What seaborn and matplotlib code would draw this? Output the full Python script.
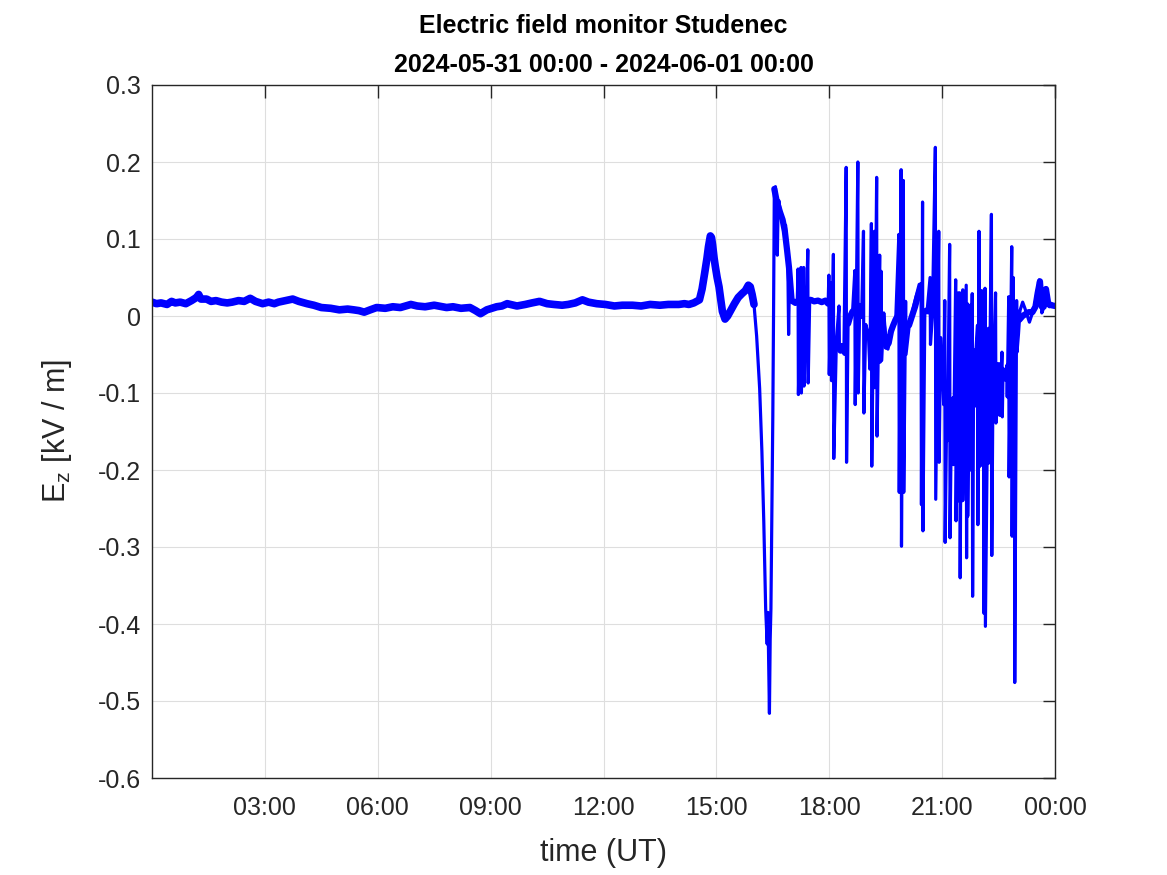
import numpy as np
import pandas as pd
import matplotlib
matplotlib.use('Agg')
import matplotlib.pyplot as plt
import seaborn as sns

# hours after 2024-05-31 00:00 UT, Ez in kV/m
calm_hours = [0.0, 0.12, 0.24, 0.4, 0.52, 0.62, 0.75, 0.9, 1.05, 1.18, 1.24, 1.3, 1.45, 1.57,
              1.7, 1.85, 2.0, 2.13, 2.3, 2.45, 2.61, 2.75, 2.94, 3.1, 3.25, 3.36, 3.55, 3.74,
              3.9, 4.12, 4.3, 4.5, 4.75, 4.98, 5.2, 5.36, 5.5, 5.64, 5.8, 5.97, 6.2, 6.4,
              6.6, 6.88, 7.05, 7.26, 7.5, 7.83, 8.0, 8.21, 8.45, 8.6, 8.73, 8.9, 9.16, 9.3,
              9.44, 9.7, 9.92, 10.1, 10.3, 10.5, 10.68, 10.9, 11.06, 11.25, 11.44, 11.6,
              11.82, 12.05, 12.29, 12.5, 12.77, 13.0, 13.24, 13.5, 13.72, 14.0, 14.15,
              14.27, 14.4, 14.55, 14.62, 14.69, 14.75, 14.79, 14.84, 14.87, 14.9, 14.94,
              14.97, 15.02, 15.07, 15.12, 15.16, 15.23, 15.3, 15.39, 15.48, 15.58, 15.68,
              15.77, 15.85, 15.9, 15.95, 16.0]
calm_ez = [0.018, 0.016, 0.017, 0.015, 0.019, 0.017, 0.018, 0.016, 0.020, 0.024, 0.028, 0.022,
           0.022, 0.019, 0.020, 0.018, 0.017, 0.018, 0.020, 0.019, 0.023, 0.019, 0.016, 0.018,
           0.016, 0.018, 0.020, 0.022, 0.019, 0.016, 0.014, 0.011, 0.010, 0.008, 0.009, 0.008,
           0.007, 0.005, 0.008, 0.011, 0.010, 0.012, 0.011, 0.015, 0.013, 0.012, 0.014, 0.011,
           0.012, 0.010, 0.011, 0.007, 0.003, 0.008, 0.012, 0.013, 0.016, 0.013, 0.015, 0.017,
           0.019, 0.016, 0.015, 0.014, 0.015, 0.017, 0.021, 0.018, 0.016, 0.015, 0.013, 0.014,
           0.014, 0.013, 0.015, 0.014, 0.015, 0.015, 0.016, 0.015, 0.017, 0.021, 0.035, 0.056,
           0.075, 0.090, 0.104, 0.102, 0.092, 0.075, 0.065, 0.050, 0.038, 0.020, 0.006, -0.004,
           0.000, 0.008, 0.016, 0.024, 0.029, 0.033, 0.040, 0.038, 0.028, 0.015]

storm_hours = [16.0, 16.07, 16.15, 16.21, 16.26, 16.31, 16.35, 16.37, 16.41, 16.43, 16.45, 16.47,
               16.5, 16.52, 16.54, 16.57, 16.6, 16.62, 16.64, 16.66, 16.7, 16.75, 16.8, 16.84,
               16.87, 16.9, 16.92, 16.94, 16.97, 17.03, 17.1, 17.15, 17.17, 17.18, 17.25, 17.26,
               17.29, 17.32, 17.33, 17.37, 17.43, 17.44, 17.48, 17.55, 17.62, 17.7, 17.78, 17.85,
               17.93, 17.97, 17.99, 18.0, 18.05, 18.06, 18.11, 18.12, 18.19, 18.26, 18.27, 18.33,
               18.39, 18.45, 18.46, 18.5, 18.57, 18.62, 18.68, 18.69, 18.76, 18.77, 18.81, 18.86,
               18.91, 18.92, 18.97, 19.04, 19.08, 19.12, 19.13, 19.2, 19.21, 19.26, 19.27, 19.34,
               19.35, 19.38, 19.39, 19.45, 19.5, 19.56, 19.62, 19.7, 19.77, 19.85, 19.86, 19.91,
               19.92, 19.97, 19.98, 20.03, 20.04, 20.12, 20.21, 20.3, 20.39, 20.44, 20.45, 20.48,
               20.49, 20.54, 20.6, 20.68, 20.69, 20.74, 20.82, 20.83, 20.91, 20.92, 20.96, 20.99,
               21.02, 21.04, 21.07, 21.08, 21.13, 21.14, 21.2, 21.21, 21.25, 21.29, 21.3, 21.36,
               21.37, 21.43, 21.44, 21.47, 21.48, 21.52, 21.53, 21.55, 21.56, 21.64, 21.65, 21.67,
               21.68, 21.74, 21.75, 21.8, 21.81, 21.84, 21.85, 21.9, 21.94, 21.95, 21.98, 21.99,
               22.05, 22.06, 22.1, 22.11, 22.14, 22.15, 22.23, 22.24, 22.31, 22.32, 22.36, 22.37,
               22.42, 22.43, 22.47, 22.52, 22.53, 22.59, 22.6, 22.62, 22.67, 22.72, 22.73, 22.77,
               22.78, 22.85, 22.86, 22.89, 22.9, 22.92, 22.93, 22.98, 22.99, 23.03, 23.07, 23.14,
               23.2, 23.26, 23.32, 23.38, 23.44, 23.5, 23.53, 23.58, 23.62, 23.65, 23.71, 23.76,
               23.8, 23.85, 23.91, 24.0]
storm_ez = [0.015, -0.026, -0.094, -0.176, -0.267, -0.380, -0.426, -0.385, -0.516, -0.420, -0.380,
            -0.276, -0.130, 0.006, 0.165, 0.168, 0.130, 0.079, 0.140, 0.150, 0.135, 0.128, 0.112,
            0.118, 0.090, 0.065, -0.024, 0.040, 0.024, 0.018, 0.017, 0.020, 0.061, -0.102, 0.063,
            -0.100, -0.030, 0.063, -0.091, -0.035, 0.086, -0.087, 0.020, 0.022, 0.018, 0.021,
            0.017, 0.020, 0.018, 0.015, 0.053, -0.076, 0.043, -0.084, 0.080, -0.185, -0.032, 0.013,
            -0.041, -0.037, -0.045, 0.193, -0.190, -0.011, -0.002, 0.006, 0.059, -0.115, 0.200,
            -0.100, 0.015, -0.002, 0.110, -0.126, -0.011, -0.024, -0.069, 0.120, -0.195, 0.110,
            -0.093, 0.180, -0.156, 0.079, -0.060, 0.058, -0.058, 0.004, -0.028, -0.043, -0.024,
            -0.011, 0.000, 0.106, -0.229, 0.190, -0.299, 0.176, -0.229, 0.019, -0.050, -0.015,
            0.006, 0.024, 0.041, 0.042, -0.245, 0.148, -0.279, 0.004, 0.006, 0.050, -0.037, -0.002,
            0.219, -0.238, 0.110, -0.190, -0.028, -0.063, -0.084, -0.115, 0.020, -0.294, -0.091,
            -0.162, 0.093, -0.288, -0.119, -0.106, -0.193, 0.047, -0.266, 0.030, -0.240, 0.030,
            -0.340, 0.028, -0.240, 0.034, -0.239, 0.040, -0.314, 0.016, -0.260, 0.014, -0.200,
            0.029, -0.364, -0.044, -0.118, -0.044, -0.012, -0.271, 0.110, -0.196, 0.033, -0.194,
            0.020, -0.386, 0.036, -0.403, -0.016, -0.191, 0.132, -0.311, -0.027, -0.066, 0.030,
            -0.139, -0.062, -0.062, -0.129, -0.047, -0.131, -0.068, -0.083, -0.064, -0.105, 0.025,
            -0.209, 0.090, -0.286, 0.050, -0.278, 0.007, -0.476, 0.020, -0.047, -0.023, 0.007,
            0.018, 0.010, 0.001, -0.008, 0.001, 0.007, 0.025, 0.033, 0.047, 0.031, 0.004, 0.012,
            0.037, 0.014, 0.012, 0.016, 0.013]

# slow background of the disturbed part (drawn as a wide noisy band)
trend_hours = [
    [16.54, 16.6, 16.69, 16.76, 16.82, 16.88, 16.93, 17.0],
    [17.0, 17.1, 17.2, 17.3, 17.4, 17.5, 17.6, 17.7, 17.8, 17.9, 17.97],
    [18.15, 18.22, 18.3, 18.38, 18.42],
    [18.5, 18.56, 18.62],
    [19.42, 19.47, 19.52, 19.58, 19.64, 19.7, 19.76, 19.82],
    [20.05, 20.12, 20.2, 20.28, 20.35, 20.42],
    [20.52, 20.58, 20.64, 20.7, 20.76],
    [22.98, 23.05, 23.14, 23.2, 23.3, 23.4, 23.48, 23.54, 23.6, 23.65, 23.7, 23.76, 23.82, 23.9, 24.0],
]
trend_ez = [
    [0.165, 0.150, 0.135, 0.125, 0.110, 0.085, 0.063, 0.020],
    [0.020, 0.017, 0.021, 0.018, 0.020, 0.021, 0.019, 0.020, 0.018, 0.020, 0.016],
    [-0.030, -0.040, -0.045, -0.040, -0.048],
    [-0.010, 0.000, 0.006],
    [-0.010, -0.030, -0.040, -0.035, -0.020, -0.012, -0.005, 0.000],
    [-0.010, -0.012, 0.000, 0.012, 0.025, 0.035],
    [0.005, 0.007, 0.006, 0.008, 0.006],
    [0.005, -0.005, 0.000, 0.002, 0.005, 0.005, 0.012, 0.030, 0.045, 0.012, 0.012, 0.035, 0.016, 0.014, 0.013],
]

x_ticks = [3, 6, 9, 12, 15, 18, 21, 24]
x_labels = ['03:00', '06:00', '09:00', '12:00', '15:00', '18:00', '21:00', '00:00']
y_ticks = [-0.6, -0.5, -0.4, -0.3, -0.2, -0.1, 0.0, 0.1, 0.2, 0.3]
y_labels = ['-0.6', '-0.5', '-0.4', '-0.3', '-0.2', '-0.1', '0', '0.1', '0.2', '0.3']

sns.set_style('white')
plt.rcParams['font.family'] = ['Liberation Sans', 'DejaVu Sans']
plt.rcParams['mathtext.fontset'] = 'custom'
plt.rcParams['mathtext.rm'] = 'Liberation Sans'

calm = pd.DataFrame({'t': calm_hours, 'ez': calm_ez})
storm = pd.DataFrame({'t': storm_hours, 'ez': storm_ez})
trend = pd.concat([pd.DataFrame({'t': h, 'ez': v, 'seg': i})
                   for i, (h, v) in enumerate(zip(trend_hours, trend_ez))], ignore_index=True)

fig = plt.figure(figsize=(11.67, 8.75), dpi=100)
ax = fig.add_axes([152 / 1167, 1 - 778 / 875, (1055 - 152) / 1167, (778 - 85) / 875])

blue = '#0000ff'
sns.lineplot(data=calm, x='t', y='ez', ax=ax, color=blue, lw=5.5,
             estimator=None, sort=False)
sns.lineplot(data=trend, x='t', y='ez', units='seg', ax=ax, color=blue, lw=4.5,
             estimator=None, sort=False)
sns.lineplot(data=storm, x='t', y='ez', ax=ax, color=blue, lw=2.3,
             estimator=None, sort=False)

ax.set_xlim(0, 24)
ax.set_ylim(-0.6, 0.3)
ax.set_xticks(x_ticks)
ax.set_xticklabels(x_labels)
ax.set_yticks(y_ticks)
ax.set_yticklabels(y_labels)
ax.grid(True, color='#dedede', lw=0.8)
ax.set_axisbelow(True)
ax.tick_params(direction='in', length=9, width=1, top=True, right=True,
               labelsize=18, colors='#262626')
ax.tick_params(axis='x', pad=13)
ax.tick_params(axis='y', pad=8)
for s in ax.spines.values():
    s.set_color('#262626')
    s.set_linewidth(1)

ax.set_xlabel('time (UT)', fontsize=22, color='#262626', labelpad=13)
ax.set_ylabel(r'E$_{\mathregular{z}}$ [kV / m]', fontsize=22, color='#262626', labelpad=17)
ax.set_title('Electric field monitor Studenec\n2024-05-31 00:00 - 2024-06-01 00:00',
             fontsize=18, fontweight='bold', color='black', linespacing=1.8, pad=9)

fig.savefig('out.png', dpi=100)
